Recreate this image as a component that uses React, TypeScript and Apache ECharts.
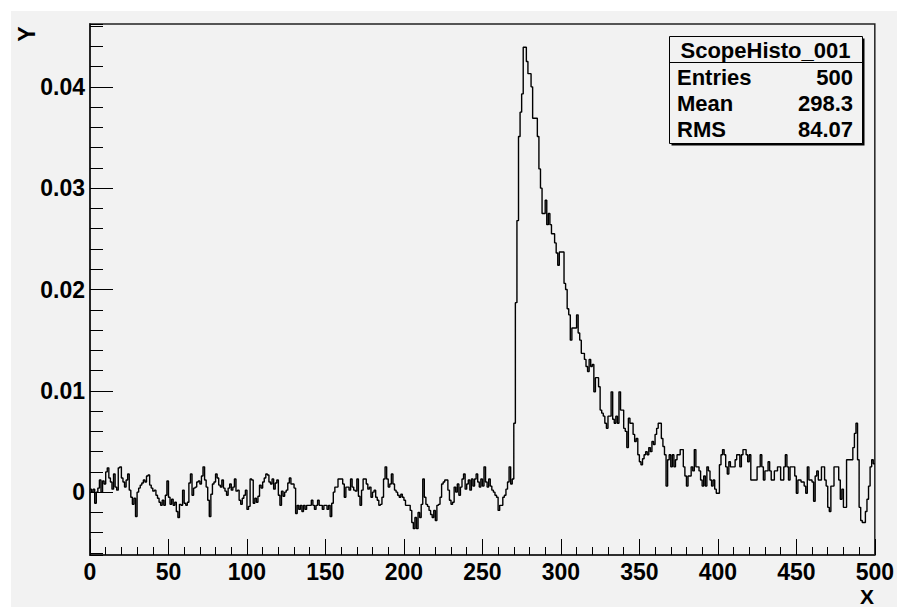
import React, { useEffect, useRef } from "react";
import * as echarts from "echarts";

// Histogram "ScopeHisto_001": 500 bins of width 1 on [0, 500)
const binsLeft = [
  0.0003, 0, 0.0003, -0.0011, 0, 0.0004, 0.0012, 0, 0.0011, 0.0008,
  0.0020, 0.0024, 0.0014, 0.0010, 0.0003, 0.0018, 0.0005, 0.0002, 0.0024, 0.0025,
  0.0014, 0.0010, 0.0005, 0.0012, 0.0018, 0.0002, -0.0005, -0.0012, -0.0006, -0.0024,
  0, 0.0004, 0.0007, 0.0009, 0.0012, 0.0010, 0.0016, 0.0017, 0.0007, 0.0004,
  0.0001, 0.0002, -0.0003, -0.0006, -0.0010, -0.0013, -0.0008, -0.0013, -0.0003, 0.0011,
  -0.0005, -0.0012, -0.0007, -0.0013, -0.0010, -0.0019, -0.0025, -0.0012, -0.0013, 0.0002,
  -0.0011, -0.0013, -0.0010, 0.0009, 0.0018, -0.0003, 0.0004, 0.0005, 0.0010, 0.0011,
];
const binsMidA = [
  0.0008, 0.0016, 0.0025, 0.0012, 0.0005, -0.0008, -0.0024, -0.0002, 0.0008, 0.0010,
  0.0018, 0.0014, 0.0007, 0.0005, 0.0012, 0.0004, 0.0001, -0.0003, 0.0004, 0.0008,
  0.0002, 0.0005, 0.0013, 0.0001, 0.0002, -0.0008, -0.0012, -0.0006, -0.0003, 0.0002,
  -0.0017, -0.0014, 0.0013, 0.0012, -0.0011, -0.0006, -0.0010, -0.0004, 0.0007, 0.0004,
  0.0010, 0.0014, 0.0018, 0.0017, 0.0010, 0.0008, 0.0013, 0.0003, 0.0009, 0.0012,
  -0.0003, -0.0013, 0.0001, -0.0004, 0, 0.0002, 0.0009, 0.0014, 0.0008, 0.0008,
  0.0004, -0.0021, -0.0013, -0.0017, -0.0013, -0.0019, -0.0013, -0.0017, -0.0013, -0.0013,
];
const binsMidB = [
  -0.0013, -0.0008, -0.0013, -0.0017, -0.0013, -0.0008, -0.0013, -0.0013, -0.0017, -0.0013,
  -0.0013, -0.0017, -0.0013, -0.0024, -0.0011, 0, 0.0005, 0.0005, 0.0013, 0.0013,
  0.0013, 0.0008, -0.0005, 0.0005, 0.0005, 0.0002, 0.0013, 0.0005, 0.0002, 0.0001,
  0.0013, -0.0004, -0.0013, 0.0002, 0.0013, 0.0013, 0.0008, 0.0003, 0.0005, -0.0005,
  0, 0.0002, -0.0005, -0.0008, -0.0013, -0.0012, -0.0005, 0.0013, 0.0025, 0.0013,
  0.0005, 0.0008, 0.0018, 0.0008, 0.0002, 0, -0.0003, -0.0005, -0.0002, -0.0005,
  -0.0008, -0.0013, -0.0013, -0.0013, -0.0018,
];
const binsPrePeak = [
  -0.0030, -0.0036, -0.0025, -0.0036, -0.0020, -0.0025, -0.0012, 0.0013, -0.0005, -0.0012,
  -0.0014, -0.0018, -0.0022, -0.0025, -0.0018, -0.0028, -0.0013, -0.0012, -0.0005, 0.0008,
  0.0010, 0.0012, 0.0012, 0.0002, -0.0008, -0.0012, -0.0010, 0.0005, 0, 0.0008,
  -0.0003, 0.0005, 0.0013, 0.0018, 0.0003, 0.0008, 0.0012, 0.0002, 0.0013, 0.0006,
  0.0013, 0.0018, 0.0010, 0.0005, 0.0013, 0.0006, 0.0025, 0.0010, 0.0005, 0.0013,
  0.0006, 0.0002, 0, -0.0003, -0.0005, -0.0018, -0.0013, -0.0013, -0.0005, -0.0003,
  0.0003, 0.0010, 0.0025, 0.0008, 0.0013,
];
const binsPeak = [
  0.0068, 0.0187, 0.0268, 0.0351, 0.0375, 0.0393, 0.0439, 0.0439, 0.0425, 0.0413,
  0.0413, 0.0400, 0.0369, 0.0369, 0.0369, 0.0351, 0.0319, 0.0300, 0.0275, 0.0275,
  0.0288, 0.0264, 0.0275, 0.0264, 0.0255, 0.0255, 0.0246, 0.0236, 0.0224, 0.0237,
  0.0237, 0.0237, 0.0206, 0.0200, 0.0181, 0.0175, 0.0150, 0.0162, 0.0162, 0.0162,
  0.0175, 0.0157, 0.0150, 0.0137, 0.0137, 0.0131, 0.0124, 0.0119, 0.0131, 0.0124,
  0.0126, 0.0099, 0.0113, 0.0113, 0.0104, 0.0081, 0.0078, 0.0075, 0.0068, 0.0063,
  0.0075, 0.0075, 0.0099, 0.0072, 0.0068, 0.0075, 0.0068, 0.0099, 0.0081, 0.0081,
  0.0063, 0.0060, 0.0044, 0.0073, 0.0068, 0.0068, 0.0057, 0.0050, 0.0053, 0.0037,
  0.0030, 0.0027, 0.0033, 0.0037, 0.0040, 0.0037, 0.0044, 0.0040, 0.0050, 0.0047,
  0.0057, 0.0063, 0.0068, 0.0068, 0.0053, 0.0045, 0.0037,
];
const binsTail = [
  0.0006, 0.0032, 0.0037, 0.0025, 0.0037, 0.0025, 0.0032, 0.0037, 0.0037, 0.0042,
  0.0042, 0.0025, 0.0016, 0.0006, 0.0016, 0.0016, 0.0025, 0.0021, 0.0042, 0.0025,
  0.0025, 0.0021, 0.0012, 0.0006, 0.0016, 0.0006, 0.0025, 0.0021, 0.0012, 0.0006,
  0.0012, 0.0003, -0.0001, -0.0001, 0.0027, 0.0037, 0.0042, 0.0037, 0.0025, 0.0018,
  0.0030, 0.0025, 0.0025, 0.0025, 0.0032, 0.0037, 0.0037, 0.0025, 0.0037, 0.0042,
  0.0042, 0.0037, 0.0030, 0.0037, 0.0012, 0.0012, 0.0012, 0.0012, 0.0025, 0.0025,
  0.0037, 0.0025, 0.0012, 0.0021, 0.0021, 0.0030, 0.0021, 0.0012, 0.0012, 0.0021,
  0.0021, 0.0025, 0.0025, 0.0012, 0.0012, 0.0025, 0.0037, 0.0025, 0.0012, 0.0025,
  0.0025, 0.0025, 0.0016, -0.0001, 0.0012, 0.0012, 0.0010, 0.0010, 0.0006, -0.0001,
  0.0025, 0.0012, 0.0012, 0.0010, -0.0009, 0.0016, 0.0021, 0.0012, 0.0012, 0.0025,
  0.0025, 0.0012, 0.0006, -0.0015, -0.0019, 0.0006, 0.0006, 0.0025, 0.0025, 0.0025,
  0.0012, -0.0007, 0.0003, -0.0015, -0.0015, 0.0032, 0.0032, 0.0032, 0.0032, 0.0044,
  0.0058, 0.0068, 0.0032, -0.0015, -0.0028, -0.0030, -0.0030, -0.0019, -0.0007, 0.0006,
  0.0025, 0.0032, 0.0028,
];
const binValues = [...binsLeft, ...binsMidA, ...binsMidB, ...binsPrePeak, ...binsPeak, ...binsTail];

const histName = "ScopeHisto_001";
const statLabels = ["Entries", "Mean", "RMS"];
const statValues = ["500", "298.3", "84.07"];
const xTitle = "X";
const yTitle = "Y";

const X_MIN = 0;
const X_MAX = 500;
const Y_MIN = -0.0062;
const Y_MAX = 0.0462;

const FONT = "'Liberation Sans', Arial, Helvetica, sans-serif";
const BG = "#f2f2f2";

export default function App() {
  const ref = useRef<HTMLDivElement>(null);

  useEffect(() => {
    if (!ref.current) return;
    const chart = echarts.init(ref.current, undefined, { renderer: "svg" });

    const data: [number, number][] = binValues.map((v, i) => [X_MIN + i, v]);
    data.push([X_MIN + binValues.length, binValues[binValues.length - 1]]);

    const labelStyle = {
      color: "#000",
      fontFamily: FONT,
      fontWeight: "bold" as const,
      fontSize: 23,
    };
    const lineStyle = { color: "#000", width: 1 };
    const axisLineStyle = { color: "#222", width: 1.5 };

    const boxL = 669, boxT = 36, boxW = 193, boxH = 107;
    const rowY = [77, 103, 129];

    chart.setOption({
      animation: false,
      backgroundColor: "transparent",
      grid: {
        left: 90,
        top: 24,
        right: 20,
        bottom: 52,
        show: true,
        borderColor: "#222",
        borderWidth: 1.5,
        backgroundColor: "transparent",
      },
      xAxis: {
        type: "value",
        min: X_MIN,
        max: X_MAX,
        interval: 50,
        position: "bottom",
        axisLine: { show: true, onZero: false, lineStyle: axisLineStyle },
        axisTick: { show: true, inside: true, length: 16, lineStyle },
        minorTick: { show: true, splitNumber: 5, length: 8, lineStyle },
        axisLabel: { ...labelStyle, margin: 5 },
        splitLine: { show: false },
        minorSplitLine: { show: false },
      },
      yAxis: [
        {
          type: "value",
          min: Y_MIN,
          max: Y_MAX,
          splitNumber: 5,
          position: "left",
          axisLine: { show: true, onZero: false, lineStyle: axisLineStyle },
          axisTick: { show: true, inside: true, length: 23, lineStyle },
          axisLabel: {
            ...labelStyle,
            margin: 5,
            showMinLabel: false,
            showMaxLabel: false,
            formatter: (v: number) => (Math.abs(v) < 1e-12 ? "0" : v.toFixed(2)),
          },
          splitLine: { show: false },
        },
        {
          type: "value",
          min: Y_MIN,
          max: Y_MAX,
          splitNumber: 26,
          position: "left",
          offset: 0,
          axisLine: { show: true, onZero: false, lineStyle: axisLineStyle },
          axisTick: { show: true, inside: true, length: 13, lineStyle },
          axisLabel: { show: false },
          splitLine: { show: false },
        },
      ],
      series: [
        {
          type: "line",
          name: histName,
          xAxisIndex: 0,
          yAxisIndex: 0,
          step: "end",
          data,
          showSymbol: false,
          symbol: "none",
          lineStyle: { color: "#000", width: 1.4 },
          z: 3,
        },
      ],
      graphic: [
        {
          type: "text",
          x: 27,
          y: 34,
          rotation: Math.PI / 2,
          style: {
            text: yTitle,
            fill: "#000",
            font: `bold 23px ${FONT}`,
            align: "center",
            verticalAlign: "middle",
          },
        },
        {
          type: "text",
          x: 867,
          y: 596,
          style: {
            text: xTitle,
            fill: "#000",
            font: `bold 21px ${FONT}`,
            align: "center",
            verticalAlign: "middle",
          },
        },
        {
          type: "rect",
          shape: { x: boxL + 2.5, y: boxT + 2.5, width: boxW, height: boxH },
          style: { fill: "#000" },
          z: 10,
        },
        {
          type: "rect",
          shape: { x: boxL + 0.5, y: boxT + 0.5, width: boxW, height: boxH },
          style: { fill: BG, stroke: "#000", lineWidth: 1 },
          z: 11,
        },
        {
          type: "line",
          shape: { x1: boxL + 0.5, y1: 62.5, x2: boxL + boxW + 0.5, y2: 62.5 },
          style: { stroke: "#000", lineWidth: 1 },
          z: 12,
        },
        {
          type: "text",
          x: boxL + boxW / 2,
          y: 50,
          z: 12,
          style: {
            text: histName,
            fill: "#000",
            font: `bold 22px ${FONT}`,
            align: "center",
            verticalAlign: "middle",
          },
        },
        ...statLabels.map((label, i) => ({
          type: "text",
          x: 677,
          y: rowY[i],
          z: 12,
          style: {
            text: label,
            fill: "#000",
            font: `bold 22px ${FONT}`,
            align: "left",
            verticalAlign: "middle",
          },
        })),
        ...statValues.map((val, i) => ({
          type: "text",
          x: 853,
          y: rowY[i],
          z: 12,
          style: {
            text: val,
            fill: "#000",
            font: `bold 22px ${FONT}`,
            align: "right",
            verticalAlign: "middle",
          },
        })),
      ],
    });

    return () => {
      chart.dispose();
    };
  }, []);

  return (
    <div
      style={{
        position: "fixed",
        left: 0,
        top: 0,
        width: 897,
        height: 607,
        background: "#ffffff",
        overflow: "hidden",
      }}
    >
      <div
        style={{
          position: "absolute",
          left: 11,
          top: 11,
          right: 0,
          bottom: 0,
          background: BG,
        }}
      />
      <div
        ref={ref}
        style={{ position: "absolute", left: 0, top: 0, width: 897, height: 607 }}
      />
    </div>
  );
}
